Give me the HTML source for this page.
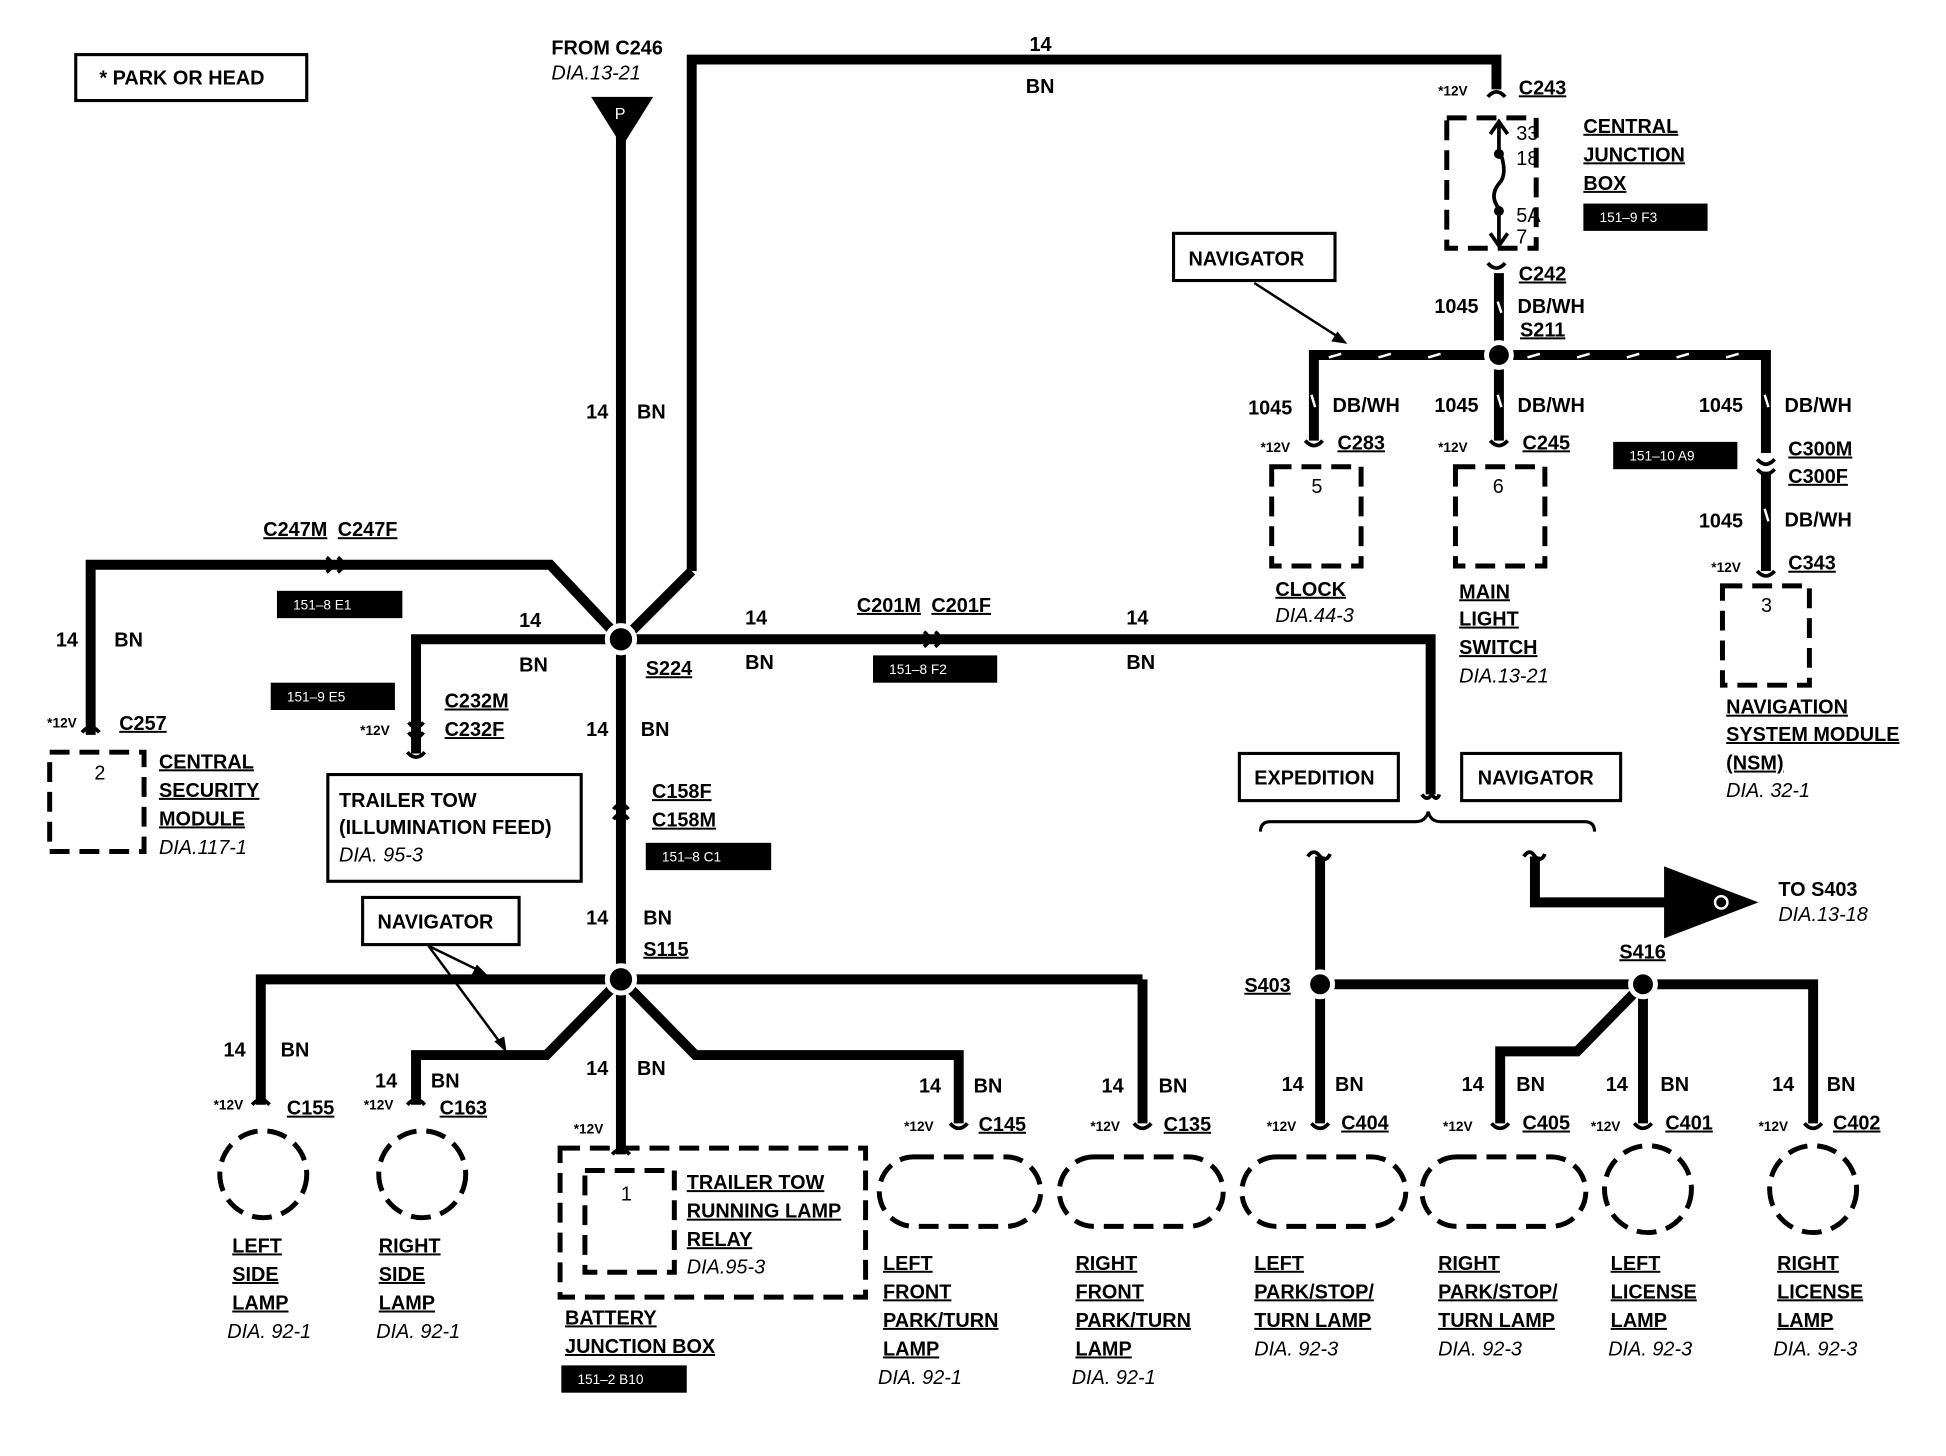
<!DOCTYPE html>
<html><head><meta charset="utf-8"><style>
html,body{margin:0;padding:0;background:#fff;}
svg{display:block;}
text{font-family:"Liberation Sans",Arial,sans-serif;font-weight:bold;font-size:16px;fill:#000;}
.i{font-style:italic;font-weight:normal;}
.s{font-size:11px;}
.w{fill:#fff;font-weight:normal;font-size:11px;}
.u{text-decoration:underline;}
</style></head><body>
<svg width="1946" height="1456" viewBox="0 0 1567 1173" preserveAspectRatio="none" xmlns="http://www.w3.org/2000/svg">
<g fill="none" stroke="#000" stroke-width="8" stroke-linejoin="miter">
<polyline points="557,460 557,48 1205,48 1205,72"/>
<line x1="557" y1="460" x2="507" y2="510"/>
<line x1="500" y1="110" x2="500" y2="505"/>
<line x1="500" y1="525" x2="500" y2="779"/>
<line x1="500" y1="799" x2="500" y2="930"/>
<polyline points="493,508 443,455 73,455 73,592"/>
<polyline points="490,515 335,515 335,607"/>
<polyline points="510,515 1152,515 1152,640"/>
<polyline points="490,789 210,789 210,890"/>
<line x1="510" y1="789" x2="920" y2="789"/>
<line x1="920" y1="789" x2="920" y2="905"/>
<polyline points="493,796 440,850 335,850 335,890"/>
<polyline points="507,796 560,850 772,850 772,905"/>
<line x1="1063" y1="690" x2="1063" y2="783"/>
<line x1="1063" y1="803" x2="1063" y2="905"/>
<line x1="1073" y1="793" x2="1313" y2="793"/>
<polyline points="1333,793 1460,793 1460,905"/>
<line x1="1323" y1="803" x2="1323" y2="905"/>
<polyline points="1316,800 1270,847 1208,847 1208,905"/>
<polyline points="1236,690 1236,727 1345,727"/>
<line x1="1207" y1="220" x2="1207" y2="275"/>
<polyline points="1197,286 1058,286 1058,355"/>
<polyline points="1217,286 1422,286 1422,365"/>
<line x1="1207" y1="296" x2="1207" y2="355"/>
<line x1="1422" y1="380" x2="1422" y2="460"/>
</g>
<g stroke="#fff" stroke-width="2">
<line x1="1070" y1="288" x2="1080" y2="285"/><line x1="1110" y1="288" x2="1120" y2="285"/><line x1="1150" y1="288" x2="1160" y2="285"/>
<line x1="1230" y1="288" x2="1240" y2="285"/><line x1="1270" y1="288" x2="1280" y2="285"/><line x1="1310" y1="288" x2="1320" y2="285"/><line x1="1350" y1="288" x2="1360" y2="285"/><line x1="1390" y1="288" x2="1400" y2="285"/>
<line x1="1206" y1="243" x2="1209" y2="252"/><line x1="1206" y1="318" x2="1209" y2="328"/><line x1="1056" y1="318" x2="1059" y2="328"/><line x1="1421" y1="318" x2="1424" y2="328"/><line x1="1421" y1="410" x2="1424" y2="420"/>
</g>
<g fill="#000" stroke="#fff" stroke-width="4">
<circle cx="500" cy="515" r="11"/><circle cx="500" cy="789" r="11"/><circle cx="1063" cy="793" r="10"/><circle cx="1323" cy="793" r="10"/><circle cx="1207" cy="286" r="10"/>
</g>
<polygon points="476,78 526,78 501,118" fill="#000"/>
<text x="495" y="96" style="fill:#fff;font-weight:normal;font-size:13px">P</text>
<polygon points="1340,698 1340,756 1416,727" fill="#000"/>
<circle cx="1386" cy="727" r="5" fill="none" stroke="#fff" stroke-width="2"/>
<g fill="none" stroke="#000" stroke-width="3">
<path d="M263,449 q8,6 0,12 M272,449 q8,6 0,12"/>
<path d="M744,509 q8,6 0,12 M753,509 q8,6 0,12"/>
<path d="M494,652 q6,-8 12,0 M494,660 q6,-8 12,0"/>
<path d="M329,582 q6,8 12,0 M329,590 q6,8 12,0"/>
<path d="M1198,78 q7,-8 14,0 M1198,212 q7,8 14,0"/>
<path d="M1415,370 q7,8 14,0 M1415,378 q7,8 14,0"/>
<path d="M1145,640 q4,6 8,0 q4,6 6,0"/>
<path d="M1053,690 q5,-7 10,0 q5,5 8,-2 M1227,690 q5,-7 9,0 q5,5 8,-2"/>
<path d="M1015,670 q0,-8 8,-8 L1140,662 q8,0 10,-8 q2,8 10,8 L1276,662 q8,0 8,8" stroke-width="2.5"/>
<path d="M66,590 q7,-8 14,0 M328,606 q7,8 14,0 M203,890 q7,-8 14,0 M328,890 q7,-8 14,0 M493,930 q7,-8 14,0 M765,905 q7,8 14,0 M913,905 q7,8 14,0 M1056,905 q7,8 14,0 M1201,905 q7,8 14,0 M1316,905 q7,8 14,0 M1453,905 q7,8 14,0 M1051,355 q7,8 14,0 M1200,355 q7,8 14,0 M1415,460 q7,8 14,0"/>
</g>
<g fill="none" stroke="#000" stroke-width="4" stroke-dasharray="16,8">
<rect x="1165" y="95" width="72" height="105"/>
<rect x="1024" y="376" width="72" height="80"/>
<rect x="1172" y="376" width="72" height="80"/>
<rect x="1387" y="472" width="70" height="80"/>
<rect x="40" y="606" width="76" height="80"/>
<rect x="451" y="925" width="246" height="120"/>
<rect x="471" y="943" width="72" height="82"/>
<circle cx="212" cy="946" r="35"/><circle cx="340" cy="946" r="35"/>
<circle cx="1327" cy="958" r="35"/><circle cx="1460" cy="958" r="35"/>
<rect x="708" y="932" width="130" height="56" rx="28"/>
<rect x="853" y="932" width="132" height="56" rx="28"/>
<rect x="1000" y="932" width="132" height="56" rx="28"/>
<rect x="1145" y="932" width="132" height="56" rx="28"/>
</g>
<g stroke="#000" stroke-width="3" fill="none"><path d="M1207,98 L1207,120 q8,20 0,28 q-8,10 0,20 L1207,198 M1200,108 l7,-10 l7,10 M1200,188 l7,10 l7,-10"/></g>
<circle cx="1207" cy="124" r="4"/><circle cx="1207" cy="170" r="4"/>
<g fill="none" stroke="#000" stroke-width="2.5">
<rect x="61" y="44" width="186" height="37"/>
<rect x="945" y="188" width="130" height="38"/>
<rect x="998" y="607" width="128" height="38"/>
<rect x="1177" y="607" width="128" height="38"/>
<rect x="264" y="624" width="204" height="86"/>
<rect x="292" y="723" width="126" height="38"/>
</g>
<line x1="1010" y1="228" x2="1080" y2="273" stroke="#000" stroke-width="2"/>
<polygon points="1085,277 1072,275 1077,267" fill="#000"/>
<line x1="345" y1="762" x2="388" y2="783" stroke="#000" stroke-width="2"/><polygon points="393,786 380,785 384,777" fill="#000"/>
<line x1="345" y1="762" x2="405" y2="843" stroke="#000" stroke-width="2"/><polygon points="408,848 398,839 406,835" fill="#000"/>
<g fill="#000">
<rect x="223" y="476" width="101" height="22"/><rect x="218" y="550" width="100" height="22"/>
<rect x="703" y="528" width="100" height="22"/><rect x="520" y="679" width="101" height="22"/>
<rect x="1275" y="164" width="100" height="22"/><rect x="1299" y="356" width="100" height="22"/>
<rect x="452" y="1100" width="101" height="22"/>
</g>
<text class="w" x="236" y="491">151–8 E1</text><text class="w" x="231" y="565">151–9 E5</text>
<text class="w" x="716" y="543">151–8 F2</text><text class="w" x="533" y="694">151–8 C1</text>
<text class="w" x="1288" y="179">151–9 F3</text><text class="w" x="1312" y="371">151–10 A9</text>
<text class="w" x="465" y="1115">151–2 B10</text>
<text x="80" y="68">* PARK OR HEAD</text>
<text x="444" y="44">FROM C246</text><text class="i" x="444" y="64">DIA.13-21</text>
<text x="829" y="41">14</text><text x="826" y="75">BN</text>
<text x="472" y="337">14</text><text x="513" y="337">BN</text>
<text class="u" x="212" y="432">C247M</text><text class="u" x="272" y="432">C247F</text>
<text x="45" y="521">14</text><text x="92" y="521">BN</text>
<text x="418" y="505">14</text><text x="418" y="541">BN</text>
<text class="u" x="520" y="544">S224</text>
<text x="600" y="503">14</text><text x="600" y="539">BN</text>
<text class="u" x="690" y="493">C201M</text><text class="u" x="750" y="493">C201F</text>
<text x="907" y="503">14</text><text x="907" y="539">BN</text>
<text x="472" y="593">14</text><text x="516" y="593">BN</text>
<text class="u" x="358" y="570">C232M</text><text class="u" x="358" y="593">C232F</text>
<text class="s" x="290" y="592">*12V</text>
<text class="u" x="525" y="643">C158F</text><text class="u" x="525" y="666">C158M</text>
<text x="472" y="745">14</text><text x="518" y="745">BN</text>
<text class="u" x="518" y="770">S115</text>
<text class="s" x="38" y="586">*12V</text><text class="u" x="96" y="588">C257</text>
<text class="u" x="128" y="619">CENTRAL</text><text class="u" x="128" y="642">SECURITY</text><text class="u" x="128" y="665">MODULE</text><text class="i" x="128" y="688">DIA.117-1</text>
<text x="76" y="628" style="font-weight:normal">2</text>
<text x="273" y="650">TRAILER TOW</text><text x="273" y="672">(ILLUMINATION FEED)</text><text class="i" x="273" y="694">DIA. 95-3</text>
<text x="304" y="748">NAVIGATOR</text>
<text x="957" y="214">NAVIGATOR</text>
<text x="1010" y="632">EXPEDITION</text><text x="1190" y="632">NAVIGATOR</text>
<text class="s" x="1158" y="77">*12V</text><text class="u" x="1223" y="76">C243</text>
<text x="1221" y="113" style="font-weight:normal">33</text><text x="1221" y="133" style="font-weight:normal">18</text>
<text x="1221" y="179" style="font-weight:normal">5A</text><text x="1221" y="196" style="font-weight:normal">7</text>
<text class="u" x="1275" y="107">CENTRAL</text><text class="u" x="1275" y="130">JUNCTION</text><text class="u" x="1275" y="153">BOX</text>
<text class="u" x="1223" y="226">C242</text>
<text x="1155" y="252">1045</text><text x="1222" y="252">DB/WH</text><text class="u" x="1224" y="271">S211</text>
<text x="1005" y="334">1045</text><text x="1073" y="332">DB/WH</text>
<text x="1155" y="332">1045</text><text x="1222" y="332">DB/WH</text>
<text x="1368" y="332">1045</text><text x="1437" y="332">DB/WH</text>
<text class="s" x="1015" y="364">*12V</text><text class="u" x="1077" y="362">C283</text>
<text class="s" x="1158" y="364">*12V</text><text class="u" x="1226" y="362">C245</text>
<text class="u" x="1440" y="367">C300M</text><text class="u" x="1440" y="389">C300F</text>
<text x="1368" y="425">1045</text><text x="1437" y="424">DB/WH</text>
<text class="s" x="1378" y="461">*12V</text><text class="u" x="1440" y="459">C343</text>
<text x="1056" y="397" style="font-weight:normal">5</text><text x="1202" y="397" style="font-weight:normal">6</text><text x="1418" y="493" style="font-weight:normal">3</text>
<text class="u" x="1027" y="480">CLOCK</text><text class="i" x="1027" y="501">DIA.44-3</text>
<text class="u" x="1175" y="482">MAIN</text><text class="u" x="1175" y="504">LIGHT</text><text class="u" x="1175" y="527">SWITCH</text><text class="i" x="1175" y="550">DIA.13-21</text>
<text class="u" x="1390" y="575">NAVIGATION</text><text class="u" x="1390" y="597">SYSTEM MODULE</text><text class="u" x="1390" y="620">(NSM)</text><text class="i" x="1390" y="642">DIA. 32-1</text>
<text x="1432" y="722">TO S403</text><text class="i" x="1432" y="742">DIA.13-18</text>
<text class="u" x="1002" y="799">S403</text><text class="u" x="1304" y="772">S416</text>
<text x="180" y="851">14</text><text x="226" y="851">BN</text>
<text x="302" y="876">14</text><text x="347" y="876">BN</text>
<text x="472" y="866">14</text><text x="513" y="866">BN</text>
<text x="740" y="880">14</text><text x="784" y="880">BN</text>
<text x="887" y="880">14</text><text x="933" y="880">BN</text>
<text x="1032" y="879">14</text><text x="1075" y="879">BN</text>
<text x="1177" y="879">14</text><text x="1221" y="879">BN</text>
<text x="1293" y="879">14</text><text x="1337" y="879">BN</text>
<text x="1427" y="879">14</text><text x="1471" y="879">BN</text>
<text class="s" x="172" y="894">*12V</text><text class="u" x="231" y="898">C155</text>
<text class="s" x="293" y="894">*12V</text><text class="u" x="354" y="898">C163</text>
<text class="s" x="462" y="913">*12V</text>
<text class="s" x="728" y="911">*12V</text><text class="u" x="788" y="911">C145</text>
<text class="s" x="878" y="911">*12V</text><text class="u" x="937" y="911">C135</text>
<text class="s" x="1020" y="911">*12V</text><text class="u" x="1080" y="910">C404</text>
<text class="s" x="1162" y="911">*12V</text><text class="u" x="1226" y="910">C405</text>
<text class="s" x="1281" y="911">*12V</text><text class="u" x="1341" y="910">C401</text>
<text class="s" x="1416" y="911">*12V</text><text class="u" x="1476" y="910">C402</text>
<text x="500" y="967" style="font-weight:normal">1</text>
<text class="u" x="553" y="958">TRAILER TOW</text><text class="u" x="553" y="981">RUNNING LAMP</text><text class="u" x="553" y="1004">RELAY</text><text class="i" x="553" y="1026">DIA.95-3</text>
<text class="u" x="455" y="1067">BATTERY</text><text class="u" x="455" y="1090">JUNCTION BOX</text>
<text class="u" x="187" y="1009">LEFT</text><text class="u" x="187" y="1032">SIDE</text><text class="u" x="187" y="1055">LAMP</text><text class="i" x="183" y="1078">DIA. 92-1</text>
<text class="u" x="305" y="1009">RIGHT</text><text class="u" x="305" y="1032">SIDE</text><text class="u" x="305" y="1055">LAMP</text><text class="i" x="303" y="1078">DIA. 92-1</text>
<text class="u" x="711" y="1023">LEFT</text><text class="u" x="711" y="1046">FRONT</text><text class="u" x="711" y="1069">PARK/TURN</text><text class="u" x="711" y="1092">LAMP</text><text class="i" x="707" y="1115">DIA. 92-1</text>
<text class="u" x="866" y="1023">RIGHT</text><text class="u" x="866" y="1046">FRONT</text><text class="u" x="866" y="1069">PARK/TURN</text><text class="u" x="866" y="1092">LAMP</text><text class="i" x="863" y="1115">DIA. 92-1</text>
<text class="u" x="1010" y="1023">LEFT</text><text class="u" x="1010" y="1046">PARK/STOP/</text><text class="u" x="1010" y="1069">TURN LAMP</text><text class="i" x="1010" y="1092">DIA. 92-3</text>
<text class="u" x="1158" y="1023">RIGHT</text><text class="u" x="1158" y="1046">PARK/STOP/</text><text class="u" x="1158" y="1069">TURN LAMP</text><text class="i" x="1158" y="1092">DIA. 92-3</text>
<text class="u" x="1297" y="1023">LEFT</text><text class="u" x="1297" y="1046">LICENSE</text><text class="u" x="1297" y="1069">LAMP</text><text class="i" x="1295" y="1092">DIA. 92-3</text>
<text class="u" x="1431" y="1023">RIGHT</text><text class="u" x="1431" y="1046">LICENSE</text><text class="u" x="1431" y="1069">LAMP</text><text class="i" x="1428" y="1092">DIA. 92-3</text>
</svg>
</body></html>
